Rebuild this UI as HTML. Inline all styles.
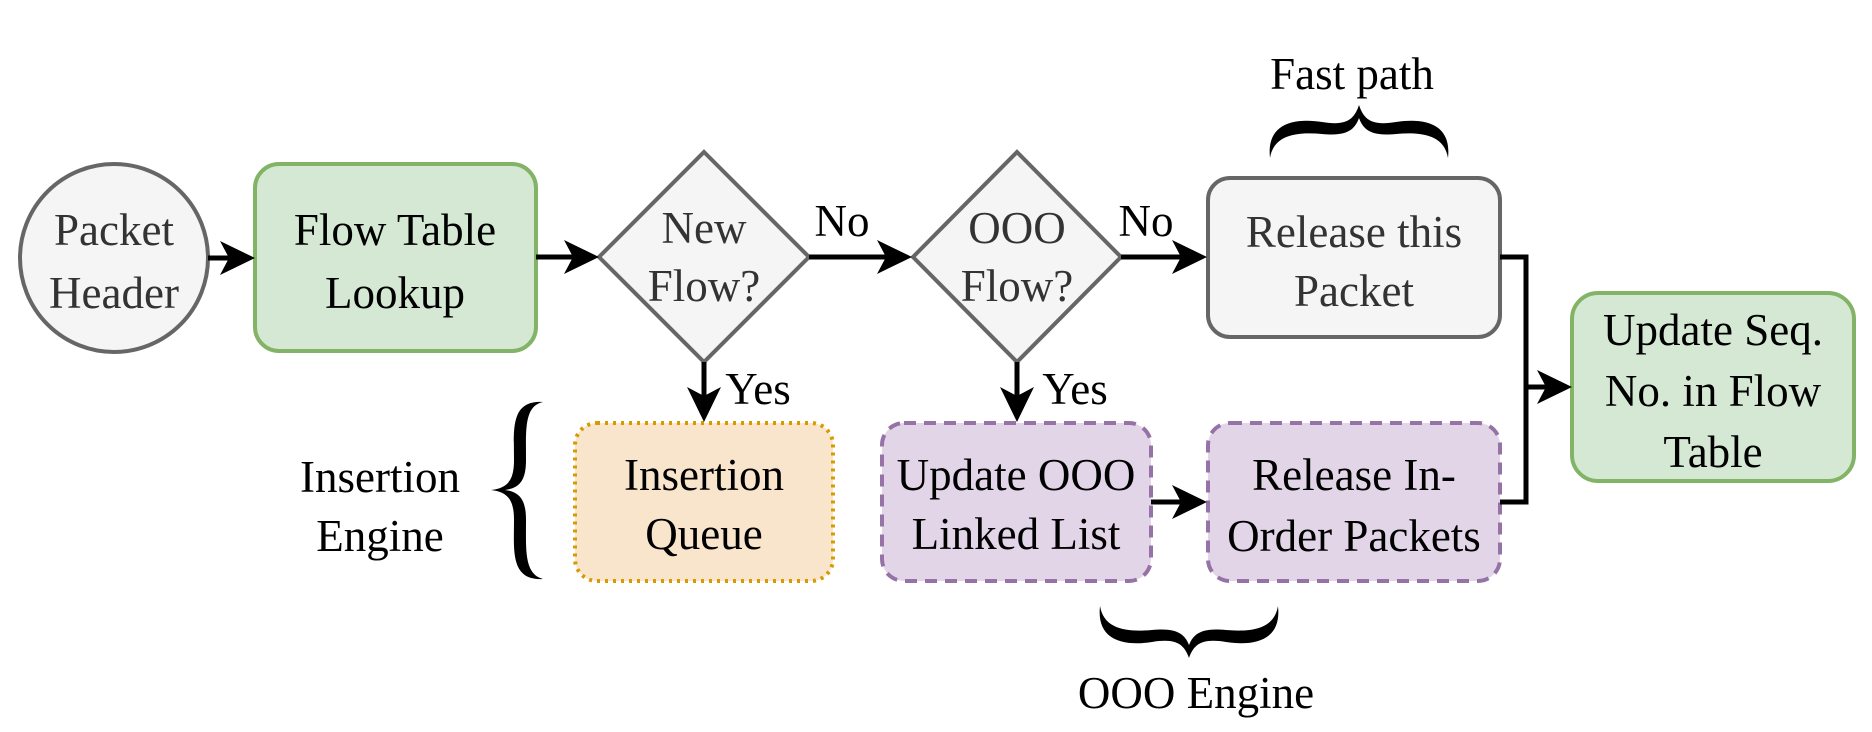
<!DOCTYPE html>
<html><head><meta charset="utf-8"><style>
html,body{margin:0;padding:0;background:#fff;}
svg{display:block;}
svg text{font-family:"Liberation Serif","Noto Serif CJK SC","DejaVu Serif",serif;font-size:45px;}
.g{fill:#333;}
.k{fill:#000;}
</style></head><body>
<svg width="1872" height="732" viewBox="0 0 1872 732" xmlns="http://www.w3.org/2000/svg">
<circle cx="114" cy="258" r="94" fill="#f5f5f5" stroke="#666" stroke-width="4"/>
<rect x="255" y="164" width="281" height="187" rx="24" fill="#d5e8d4" stroke="#82b366" stroke-width="4"/>
<polygon points="704,152 809,257 704,362 599,257" fill="#f5f5f5" stroke="#666" stroke-width="4"/>
<polygon points="1017,152 1121,257 1017,362 913,257" fill="#f5f5f5" stroke="#666" stroke-width="4"/>
<rect x="1208" y="178" width="292" height="159" rx="22" fill="#f5f5f5" stroke="#666" stroke-width="4"/>
<rect x="1572" y="293" width="282" height="188" rx="26" fill="#d5e8d4" stroke="#82b366" stroke-width="4"/>
<rect x="575" y="423" width="258" height="158" rx="22" fill="#f8e5cc" stroke="#d79b00" stroke-width="4" stroke-dasharray="3,5"/>
<rect x="882" y="423" width="269" height="158" rx="22" fill="#e1d5e7" stroke="#9673a6" stroke-width="4" stroke-dasharray="12,8"/>
<rect x="1208" y="423" width="292" height="158" rx="22" fill="#e1d5e7" stroke="#9673a6" stroke-width="4" stroke-dasharray="12,8"/>

<g stroke="#000" stroke-width="5" fill="none">
<line x1="208" y1="258" x2="236" y2="258"/>
<line x1="536" y1="257" x2="580" y2="257"/>
<line x1="809" y1="257" x2="893" y2="257"/>
<line x1="1121" y1="257" x2="1188" y2="257"/>
<line x1="704" y1="362" x2="704" y2="403"/>
<line x1="1017" y1="362" x2="1017" y2="403"/>
<line x1="1151" y1="502" x2="1188" y2="502"/>
<polyline points="1500,257 1526,257 1526,502 1500,502"/>
<line x1="1526" y1="387" x2="1553" y2="387"/>
</g>
<g fill="#000">
<polygon points="255,258 220,241 229,258 220,275"/>
<polygon points="599,257 564,240 573,257 564,274"/>
<polygon points="912,257 877,240 886,257 877,274"/>
<polygon points="1207,257 1172,240 1181,257 1172,274"/>
<polygon points="704,422 687,387 704,396 721,387"/>
<polygon points="1017,422 1000,387 1017,396 1034,387"/>
<polygon points="1207,502 1172,485 1181,502 1172,519"/>
<polygon points="1572,387 1537,370 1546,387 1537,404"/>
</g>

<path d="M1270,158 C1266,122 1296,118 1322,122 C1346,126 1354,120 1359,105 C1364,120 1372,126 1396,122 C1422,118 1452,122 1448,158 C1444,134 1420,132 1396,134 C1374,136 1364,132 1359,118 C1354,132 1344,136 1322,134 C1298,132 1274,134 1270,158 Z" fill="#000"/>
<path d="M1100,606 C1096,642 1126,646 1152,642 C1176,638 1184,644 1189,658 C1194,644 1202,638 1226,642 C1252,646 1282,642 1278,606 C1274,630 1250,632 1226,630 C1204,628 1194,632 1189,645 C1184,632 1174,628 1152,630 C1128,632 1104,630 1100,606 Z" fill="#000"/>
<path d="M543,402 C510,400 514,430 514,460 C514,480 508,488 491,490 C508,492 514,500 514,520 C514,550 510,581 543,579 C524,574 526,550 526,520 C526,500 520,492 505,490 C520,488 526,480 526,460 C526,430 524,406 543,402 Z" fill="#000"/>

<g text-anchor="middle" style="font-family:'Liberation Serif','Noto Serif CJK SC','DejaVu Serif',serif;font-size:45px">
<text class="g" x="114" y="245">Packet</text>
<text class="g" x="114" y="308">Header</text>
<text class="k" x="395" y="245">Flow Table</text>
<text class="k" x="395" y="308">Lookup</text>
<text class="g" x="704" y="243">New</text>
<text class="g" x="704" y="301">Flow?</text>
<text class="g" x="1017" y="243">OOO</text>
<text class="g" x="1017" y="301">Flow?</text>
<text class="g" x="1354" y="247">Release this</text>
<text class="g" x="1354" y="306">Packet</text>
<text class="k" x="1713" y="345">Update Seq.</text>
<text class="k" x="1713" y="406">No. in Flow</text>
<text class="k" x="1713" y="467">Table</text>
<text class="k" x="704" y="490">Insertion</text>
<text class="k" x="704" y="549">Queue</text>
<text class="k" x="1016" y="490">Update OOO</text>
<text class="k" x="1016" y="549">Linked List</text>
<text class="k" x="1354" y="490">Release In-</text>
<text class="k" x="1354" y="551">Order Packets</text>
<text class="k" x="380" y="492">Insertion</text>
<text class="k" x="380" y="551">Engine</text>
<text class="k" x="1352" y="89">Fast path</text>
<text class="k" x="1196" y="708">OOO Engine</text>
<text class="k" x="842" y="236">No</text>
<text class="k" x="1146" y="236">No</text>
<text class="k" x="758" y="404">Yes</text>
<text class="k" x="1075" y="404">Yes</text>
</g>
</svg>
</body></html>
